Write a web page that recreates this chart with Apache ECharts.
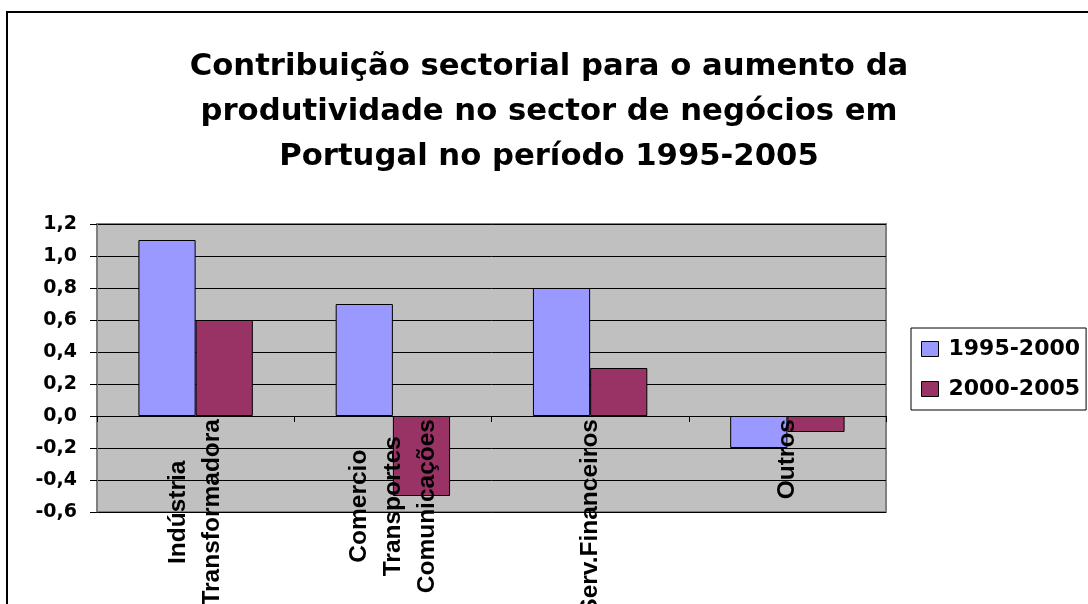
<!DOCTYPE html>
<html>
<head>
<meta charset="utf-8">
<script src="https://cdn.jsdelivr.net/npm/echarts@6/dist/echarts.min.js"></script>
<style>
  html, body { margin: 0; padding: 0; background: #fff; }
  #chart { width: 1088px; height: 604px; }
</style>
</head>
<body>
<div id="chart"></div>
<script>
const titleText = 'Contribuição sectorial para o aumento da\nprodutividade no sector de negócios em\nPortugal no período 1995-2005';
const categories = ['Indústria\nTransformadora', 'Comercio\nTransportes\nComunicações', 'Serv.Financeiros', 'Outros'];
const seriesNames = ['1995-2000', '2000-2005'];
const values1995 = [1.1, 0.7, 0.8, -0.2];
const values2000 = [0.6, -0.5, 0.3, -0.1];
const yMin = -0.6;
const yMax = 1.2;
const yStep = 0.2;

const chart = echarts.init(document.getElementById('chart'));

chart.setOption({
  backgroundColor: '#fff',
  animation: false,
  title: {
    text: titleText,
    left: 549,
    top: 45,
    padding: 0,
    textAlign: 'center',
    textStyle: { fontFamily: 'DejaVu Sans', fontWeight: 'bold', fontSize: 30.7, lineHeight: 45, color: '#000' },
  },
  graphic: [
    // chart area frame (runs off the right and bottom edges like the original)
    { type: 'rect', shape: { x: 7, y: 12, width: 1100, height: 620 }, style: { fill: 'none', stroke: '#000', lineWidth: 2 }, silent: true },
  ],
  legend: {
    orient: 'vertical',
    left: 911,
    top: 328,
    padding: [10, 6, 10, 10],
    itemWidth: 17,
    itemHeight: 15,
    itemGap: 18,
    icon: 'rect',
    borderColor: '#000',
    borderWidth: 1,
    backgroundColor: '#fff',
    itemStyle: { borderColor: '#000', borderWidth: 1 },
    textStyle: { fontFamily: 'DejaVu Sans', fontWeight: 'bold', fontSize: 22, color: '#000', padding: [0, 0, 0, 5] },
    data: seriesNames,
  },
  grid: {
    left: 97,
    right: 202,
    top: 224,
    bottom: 92,
    outerBoundsMode: 'none',
    containLabel: false,
    show: true,
    backgroundColor: '#C0C0C0',
    borderColor: '#808080',
    borderWidth: 2,
  },
  xAxis: {
    type: 'category',
    data: categories,
    z: 5,
    axisLine: { onZero: true, lineStyle: { color: '#000', width: 1 } },
    axisTick: { show: true, inside: false, length: 6, alignWithLabel: false, lineStyle: { color: '#000' } },
    axisLabel: {
      interval: 0,
      rotate: 90,
      // labels sit on the grid edge in v6, pull them up under the zero line
      margin: -93,
      color: '#000',
      formatter: (v) => v.split('\n').map((l) => '{c|' + l + '}').join('\n'),
      rich: {
        c: { align: 'center', fontFamily: 'Liberation Sans', fontWeight: 'bold', fontSize: 24.5, lineHeight: 34, color: '#000' },
      },
    },
    splitLine: { show: false },
  },
  yAxis: {
    type: 'value',
    min: yMin,
    max: yMax,
    interval: yStep,
    axisLine: { show: true, lineStyle: { color: '#808080', width: 1 } },
    axisTick: { show: true, inside: false, length: 7, lineStyle: { color: '#000' } },
    axisLabel: {
      margin: 20,
      color: '#000',
      fontFamily: 'DejaVu Sans',
      fontWeight: 'bold',
      fontSize: 19,
      formatter: (v) => v.toFixed(1).replace('.', ','),
    },
    splitLine: { show: true, lineStyle: { color: '#000', width: 1 } },
  },
  series: [
    {
      name: seriesNames[0],
      type: 'bar',
      data: values1995,
      barGap: 0,
      barCategoryGap: '42%',
      itemStyle: { color: '#9999FF', borderColor: '#000', borderWidth: 1 },
    },
    {
      name: seriesNames[1],
      type: 'bar',
      data: values2000,
      barGap: 0,
      barCategoryGap: '42%',
      itemStyle: { color: '#993366', borderColor: '#000', borderWidth: 1 },
    },
  ],
});
</script>
</body>
</html>
